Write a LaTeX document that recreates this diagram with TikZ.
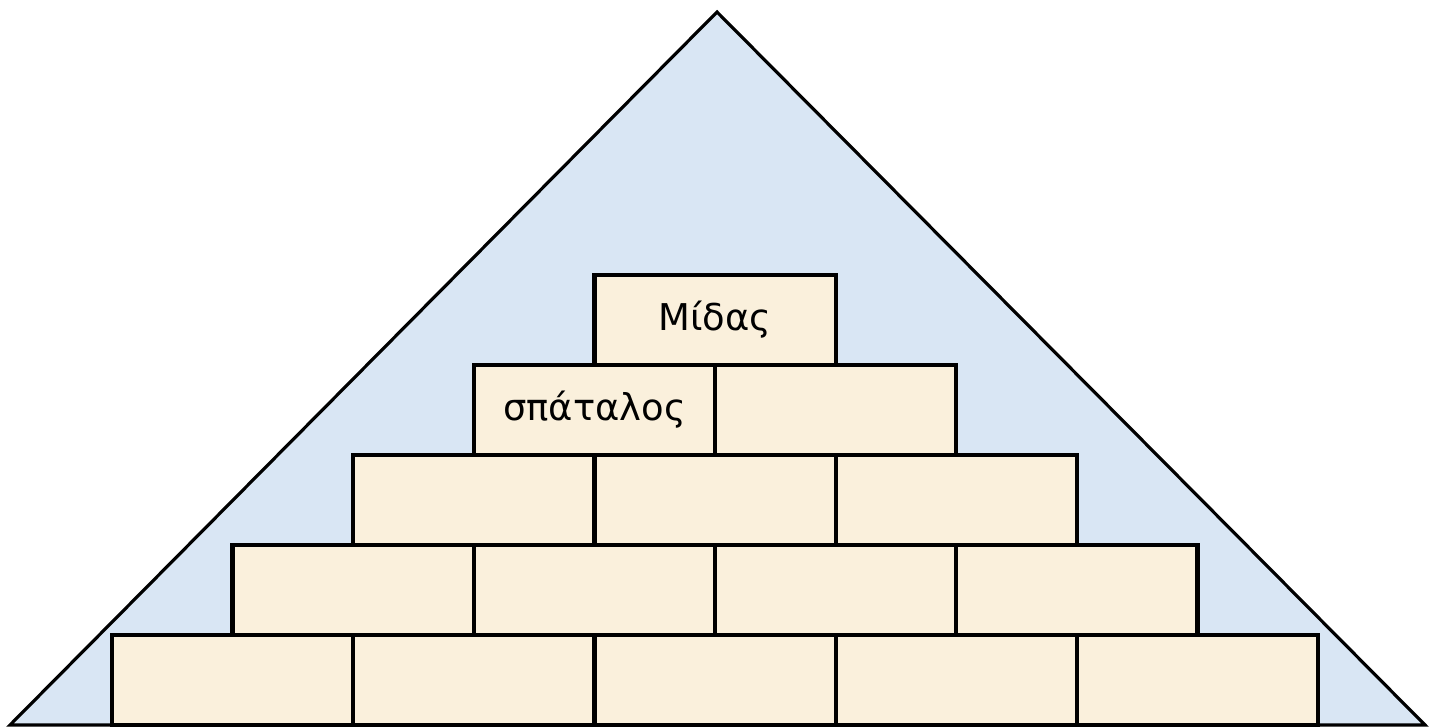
\documentclass[tikz,border=0pt]{standalone}
\usepackage{fontspec}
\setmainfont{DejaVu Sans}
\usetikzlibrary{positioning}

\definecolor{skyblue}{RGB}{217,230,244}
\definecolor{brickbeige}{RGB}{250,240,220}

\begin{document}
\begin{tikzpicture}[
    pyramid/.style={draw=black, line width=0.9pt, fill=skyblue, line join=miter},
    brick/.style={rectangle, draw=black, line width=1.2pt, fill=brickbeige, minimum width=2.412cm, minimum height=0.9cm, inner sep=0pt},
    label/.style={font=\fontsize{10.5}{12}\selectfont}
]
\useasboundingbox (0,0) rectangle (14.41,7.27);

% the big triangle behind
\coordinate (apex) at (7.17,7.15);
\coordinate (left) at (0.10,0.02);
\coordinate (right) at (14.25,0.02);
\draw[pyramid] (left) -- (apex) -- (right) -- cycle;

% rows of bricks, bottom up
\foreach \r in {0,...,4}{
  \pgfmathtruncatemacro{\last}{4-\r}
  \foreach \c in {0,...,\last}{
    \node[brick] (b-\r-\c) at ({7.15+(\c-(4-\r)/2)*2.412},{0.47+0.9*\r}) {};
  }
}

\node[label] (midas) at (b-4-0) {Μίδας};
\node[label] (spendthrift) at (b-3-0) {σπάταλος};

\end{tikzpicture}
\end{document}
